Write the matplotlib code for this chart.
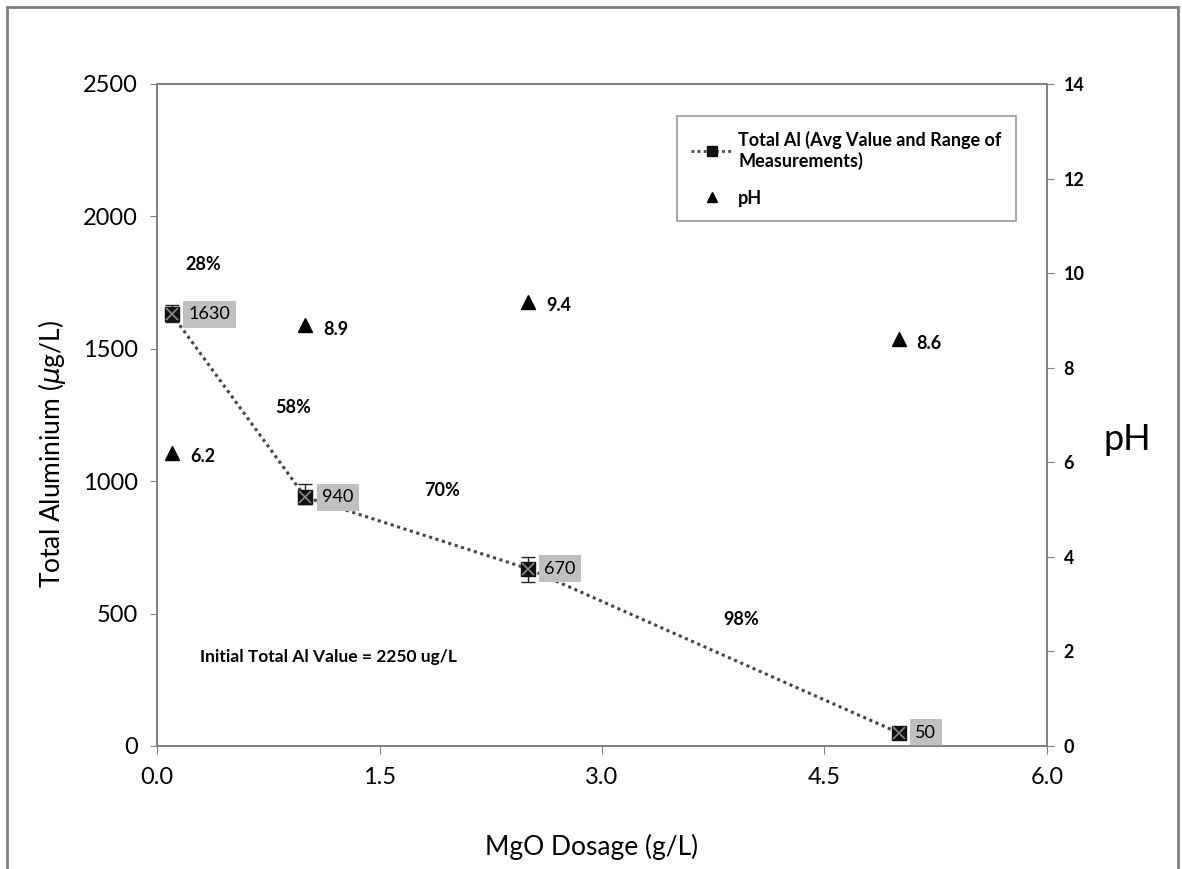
import matplotlib
matplotlib.use("Agg")
import matplotlib.pyplot as plt
from matplotlib.patches import Rectangle
from matplotlib.lines import Line2D

dosage = [0.1, 1.0, 2.5, 5.0]
total_al = [1630, 940, 670, 50]
al_low = [1600, 915, 620, 45]
al_high = [1665, 990, 713, 55]
ph = [6.2, 8.9, 9.4, 8.6]
removal_labels = ["28%", "58%", "70%", "98%"]
removal_pos_x = [0.31, 0.92, 1.92, 3.94]
removal_pos_y = [1820, 1280, 963, 476]

plt.rcParams['font.family'] = ['Lato', 'DejaVu Sans']

fig = plt.figure(figsize=(11.82, 8.69), dpi=100)
fig.patches.append(Rectangle((7/1182, -0.1), (1178-7)/1182, (869-7)/869 + 0.1,
                             transform=fig.transFigure, fill=False,
                             edgecolor='#808080', linewidth=2))
ax = fig.add_axes([157/1182, 1-746/869, (1047-157)/1182, (746-84)/869])
ax2 = ax.twinx()

ax.set_xlim(0, 6)
ax.set_ylim(0, 2500)
ax2.set_ylim(0, 14)
ax.set_xticks([0, 1.5, 3.0, 4.5, 6.0])
ax.set_xticklabels(['0.0', '1.5', '3.0', '4.5', '6.0'])
ax.set_yticks([0, 500, 1000, 1500, 2000, 2500])
ax2.set_yticks(range(0, 15, 2))

for a in (ax, ax2):
    for s in a.spines.values():
        s.set_color('#808080')
        s.set_linewidth(1.2)
ax.tick_params(axis='x', direction='out', length=6, color='#808080', labelsize=17, pad=9)
ax.tick_params(axis='y', direction='out', length=5, color='#808080', labelsize=17, pad=9)
ax2.tick_params(axis='y', direction='out', length=5, color='#808080', labelsize=13, pad=7)
for lbl in ax2.get_yticklabels():
    lbl.set_fontweight('bold')

yerr = [[v - l for v, l in zip(total_al, al_low)], [h - v for v, h in zip(total_al, al_high)]]
ax.errorbar(dosage, total_al, yerr=yerr, fmt='none', ecolor='#222222', elinewidth=1, capsize=5, zorder=3)
ax.plot(dosage, total_al, linestyle=(0, (1, 1.2)), color='#444444', linewidth=2.2, zorder=2)
ax.plot(dosage, total_al, linestyle='none', marker='s', markersize=10, color='#111111', zorder=4)
ax.plot(dosage, total_al, linestyle='none', marker='x', markersize=8, markeredgewidth=1.2, color='#888888', zorder=5)

for x, y in zip(dosage, total_al):
    ax.annotate(str(y), (x, y), xytext=(12, 0), textcoords='offset points', va='center', ha='left',
                fontsize=13, bbox=dict(boxstyle='square,pad=0.3', facecolor='#c0c0c0', edgecolor='none'))

ax2.plot(dosage, ph, linestyle='none', marker='^', markersize=10, color='black', zorder=4)
for x, y in zip(dosage, ph):
    ax2.annotate(f"{y}", (x, y), xytext=(13, -3), textcoords='offset points', va='center', ha='left',
                 fontsize=13, fontweight='bold')

for t, x, y in zip(removal_labels, removal_pos_x, removal_pos_y):
    ax.text(x, y, t, ha='center', va='center', fontsize=13, fontweight='bold')

ax.text(0.29, 336, "Initial Total Al Value = 2250 ug/L", ha='left', va='center', fontsize=12.5, fontweight='bold')

ax.set_ylabel("Total Aluminium ($\\mu$g/L)", fontsize=19, va='center')
ax.yaxis.set_label_coords((52-157)/890, (746-454)/662)
ax.set_xlabel("MgO Dosage (g/L)", fontsize=19, va='center')
ax.xaxis.set_label_coords((592-157)/890, (746-847)/662)
ax2.set_ylabel("pH", fontsize=26, rotation=0, va='center', ha='center')
ax2.yaxis.set_label_coords((1127-157)/890, (746-440)/662)

handles = [Line2D([], [], color='#444444', linestyle=(0, (1, 1.2)), linewidth=2, marker='s',
                  markersize=7, markerfacecolor='#111111', markeredgecolor='#111111'),
           Line2D([], [], linestyle='none', marker='^', color='black', markersize=7)]
leg = ax2.legend(handles, ["Total Al (Avg Value and Range of\nMeasurements)", "pH"],
                 loc='upper right', bbox_to_anchor=((1016-157)/890, (746-116)/662),
                 frameon=True, fancybox=False, edgecolor='#808080',
                 prop={'weight': 'bold', 'size': 13}, handlelength=2.3, borderpad=0.8,
                 labelspacing=1.1, handletextpad=0.3, borderaxespad=0)
leg.get_frame().set_linewidth(1.2)

fig.savefig("out.png", dpi=100)
